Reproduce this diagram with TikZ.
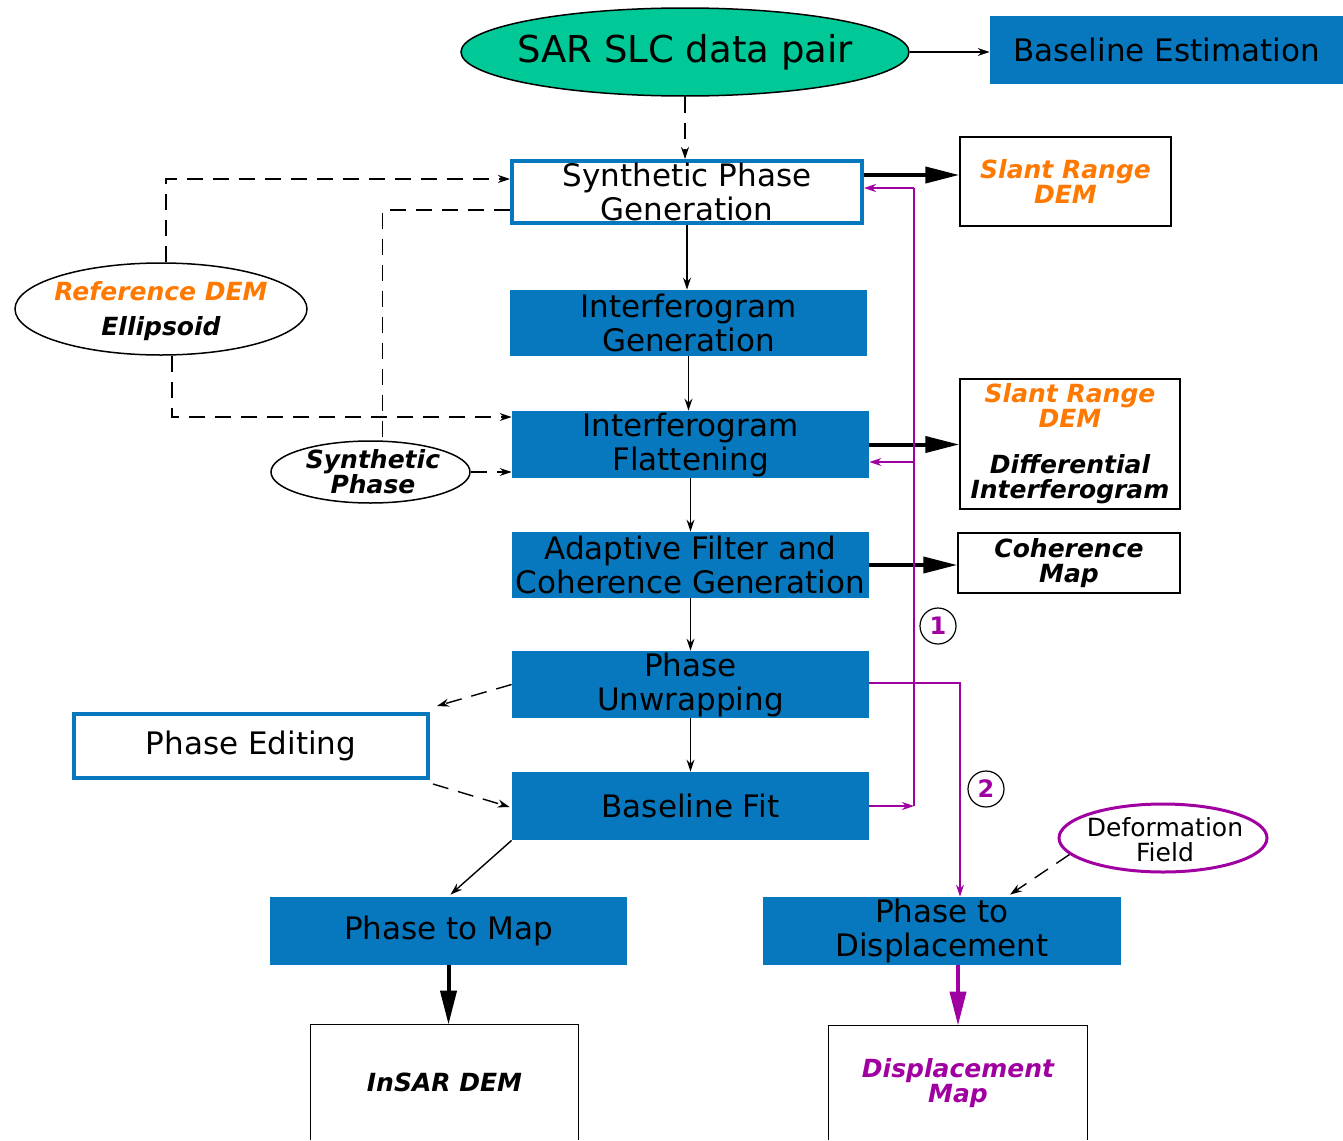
\documentclass[tikz,border=0pt]{standalone}
\usepackage{fontspec}
\setmainfont{DejaVu Sans}
\usetikzlibrary{arrows.meta,shapes.geometric,calc}
\definecolor{boxblue}{RGB}{8,120,190}
\definecolor{sargreen}{RGB}{0,200,150}
\definecolor{demorange}{RGB}{255,120,0}
\definecolor{flowpurple}{RGB}{160,0,160}
\newcommand{\boxfont}{\fontsize{15.5}{17}\selectfont}
\newcommand{\bifont}{\fontsize{12.5}{12.5}\selectfont\bfseries\itshape}
\newcommand{\smfont}{\fontsize{12.5}{12.5}\selectfont}
\begin{document}
\begin{tikzpicture}[x=0.5pt,y=-0.5pt,
  sz/.style 2 args={minimum width=#1*0.5pt,minimum height=#2*0.5pt},
  fillbox/.style={fill=boxblue,inner sep=0pt,align=center,font=\boxfont},
  framebox/.style={draw=boxblue,line width=2pt,fill=white,inner sep=0pt,align=center,font=\boxfont},
  outbox/.style={draw=black,line width=0.75pt,inner sep=0pt,align=center,font=\bifont},
  oval/.style={ellipse,draw=black,line width=0.75pt,inner sep=0pt},
  txt/.style={inner sep=0pt,align=center},
  flow/.style={line width=0.7pt,-{Stealth[length=6pt,width=4pt]}},
  dflow/.style={flow,dash pattern=on 8pt off 5pt},
  dline/.style={line width=0.7pt,dash pattern=on 8pt off 5pt},
  bigflow/.style={line width=2pt,-{Triangle[length=17pt,width=8pt]}},
  pflow/.style={flowpurple,line width=0.7pt,-{Stealth[length=6pt,width=4pt]}},
  pline/.style={flowpurple,line width=0.7pt},
  numcirc/.style={circle,draw=black,line width=0.6pt,minimum size=18pt,inner sep=0pt,text=flowpurple,font=\fontsize{12}{12}\selectfont\bfseries},
]
\useasboundingbox (0,0) rectangle (1343,1140);

% nodes
\node[oval,fill=sargreen,sz={448}{88}] (sar) at (685,52) {};
\node[txt,font=\fontsize{18.5}{20}\selectfont] (sartext) at (685,52) {SAR SLC data pair};
\node[fillbox,sz={353}{68}] (base) at (1166.5,50) {Baseline Estimation};
\node[framebox,sz={350}{62}] (spg) at (687,192) {Synthetic Phase\\Generation};
\node[outbox,text=demorange,sz={211}{89}] (srd1) at (1065.5,181.5) {Slant Range\\DEM};
\node[fillbox,sz={357}{66}] (ig) at (688.5,323) {Interferogram\\Generation};
\node[fillbox,sz={357}{67}] (if) at (690.5,444.5) {Interferogram\\Flattening};
\node[fillbox,sz={357}{66}] (af) at (690.5,565) {Adaptive Filter and\\Coherence Generation};
\node[fillbox,sz={357}{67}] (pu) at (690.5,684.5) {Phase\\Unwrapping};
\node[fillbox,sz={357}{68}] (bf) at (690.5,806) {Baseline Fit};
\node[framebox,sz={354}{64}] (pe) at (251,746) {Phase Editing};
\node[fillbox,sz={357}{68}] (ptm) at (448.5,931) {Phase to Map};
\node[fillbox,sz={358}{68}] (ptd) at (942,931) {Phase to\\Displacement};
\node[txt,font=\bifont,sz={267}{115}] (insar) at (444.5,1082.5) {InSAR DEM};
\draw[line width=0.75pt] (insar.south west) -- (insar.north west) -- (insar.north east) -- (insar.south east);
\node[txt,font=\bifont,text=flowpurple,sz={258}{114}] (dmap) at (958,1083) {Displacement\\Map};
\draw[line width=0.75pt] (dmap.south west) -- (dmap.north west) -- (dmap.north east) -- (dmap.south east);
\node[outbox,sz={220}{130}] (srd2) at (1070,444) {\textcolor{demorange}{Slant Range}\\\textcolor{demorange}{DEM}\\[10.5pt]Differential\\Interferogram};
\node[outbox,sz={222}{60}] (coh) at (1069,563) {Coherence\\Map};
\node[oval,sz={292}{92}] (refdem) at (161,309) {};
\node[txt,font=\bifont] (refdemtext) at (161,311) {\textcolor{demorange}{Reference DEM}\\[5pt]Ellipsoid};
\node[oval,sz={199}{62}] (synph) at (370.5,472) {};
\node[txt,font=\bifont] (synphtext) at (373,472) {Synthetic\\Phase};
\node[oval,draw=flowpurple,line width=1.5pt,sz={208}{68}] (deform) at (1163,838) {};
\node[txt,font=\smfont] (deformtext) at (1165,840) {Deformation\\Field};
\node[numcirc] (c1) at (938,626) {1};
\node[numcirc] (c2) at (986,789) {2};

% main flow
\draw[flow] (sar.east) -- (sar.east -| base.west);
\draw[dflow] (sar.south) -- (sar.south |- spg.north);
\draw[flow] (spg.south) -- (spg.south |- ig.north);
\draw[flow] (ig.south) -- (ig.south |- if.north);
\draw[flow] (if.south) -- (if.south |- af.north);
\draw[flow] (af.south) -- (af.south |- pu.north);
\draw[flow] (pu.south) -- (pu.south |- bf.north);

% thick outputs
\coordinate (spgout) at ($(spg.east)+(0,-17)$);
\draw[bigflow] (spgout) -- (spgout -| srd1.west);
\draw[bigflow] (if.east) -- (if.east -| srd2.west);
\draw[bigflow] (af.east) -- (af.east -| coh.west);
\draw[bigflow] (ptm.south) -- (ptm.south |- insar.north);
\draw[bigflow,flowpurple] (dmap.north |- ptd.south) -- (dmap.north);

% dashed inputs
\coordinate (reftop) at ($(refdem.north)+(5,0)$);
\coordinate (refbot) at ($(refdem.south)+(11,0)$);
\draw[dflow] (reftop) |- ($(spg.west)+(0,-13)$);
\draw[dflow] (refbot) |- ($(if.west)+(0,-27.5)$);
\draw[dline] ($(spg.west)+(0,18)$) -| ($(synph.north)+(12,0)$);
\draw[dflow] (synph.east) -- (synph.east -| if.west);
\draw[dflow] (pu.west) -- ($(pe.north east)+(7,-6)$);
\draw[dflow] ($(pe.south east)+(3,4)$) -- ($(bf.west)+(-2,1)$);
\draw[dflow] (deform.190) -- ($(ptd.north)+(68,-2)$);
\draw[flow] (bf.south west) -- ($(ptm.north)+(2,-2)$);

% purple feedback loops
\coordinate (ptop) at (914,188);
\coordinate (ifp) at ($(if.east)+(0,17.5)$);
\draw[pflow] (bf.east) -- (bf.east -| ptop);
\draw[pline] (bf.east -| ptop) -- (ptop);
\draw[pflow] (ptop) -- (ptop -| spg.east);
\draw[pflow] (ifp -| ptop) -- (ifp);
\draw[pflow] ($(pu.east)+(0,-1.5)$) -| ($(ptd.north)+(18,0)$);
\end{tikzpicture}
\end{document}
